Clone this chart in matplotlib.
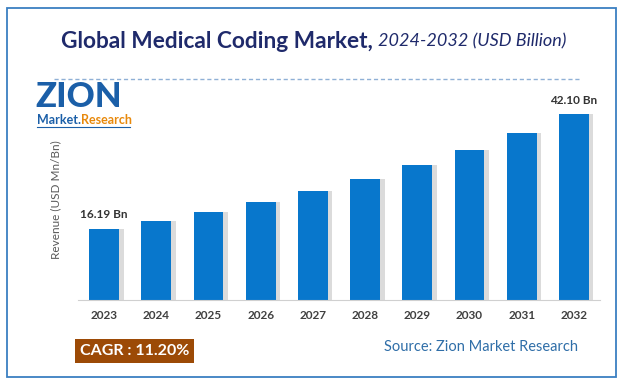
import numpy as np
import matplotlib.pyplot as plt
from matplotlib.patches import Rectangle

years = ['2023', '2024', '2025', '2026', '2027', '2028', '2029', '2030', '2031', '2032']
revenue = [16.19, 18.0, 20.0, 22.3, 24.8, 27.5, 30.5, 34.0, 37.8, 42.10]
first_label = '16.19 Bn'
last_label = '42.10 Bn'
cagr_text = 'CAGR : 11.20%'
source_text = 'Source: Zion Market Research'

plt.rcParams['font.family'] = ['Lato', 'DejaVu Sans']

fig = plt.figure(figsize=(6.24, 3.84), dpi=100)

# outer frame
fig.patches.append(Rectangle((7/624, 7/384), 609/624, 369/384, transform=fig.transFigure,
                             fill=False, edgecolor='#3a7fc1', linewidth=1.3))

# title
fig.text(373/624, 1-41/384, 'Global Medical Coding Market,', ha='right', va='center',
         fontsize=16.3, fontweight='bold', color='#1f2a6b')
fig.text(378/624, 1-41/384, '2024-2032 (USD Billion)', ha='left', va='center',
         fontsize=13, style='italic', color='#1f2a6b')
fig.lines.append(plt.Line2D([54/624, 580/624], [1-79/384, 1-79/384], transform=fig.transFigure,
                            color='#8fb0d6', linewidth=1, linestyle=(0, (3, 2))))

ax = fig.add_axes([78/624, 84/384, 522/624, 200/384])

# logo
fig.text(35/624, 1-97/384, 'ZION', fontsize=25, fontweight='black', color='#1b5fa8',
         va='center', ha='left')
t1 = fig.text(37/624, 1-120/384, 'Market.', fontsize=9, fontweight='bold', color='#1b5fa8',
              va='center', ha='left')
ax.annotate('Research', xy=(1, 0.5), xycoords=t1, va='center', ha='left',
            fontsize=9, fontweight='bold', color='#e8890c', annotation_clip=False)
fig.lines.append(plt.Line2D([37/624, 130/624], [1-127/384, 1-127/384], transform=fig.transFigure,
                            color='#1b5fa8', linewidth=0.8))

x = np.arange(len(years))
# shadow
ax.bar(x + 0.09, revenue, width=0.57, color='#9a9a9a', alpha=0.35, zorder=1)
ax.bar(x, revenue, width=0.57, color='#0877cc', zorder=2)
ax.set_xlim(-0.5, len(years) - 0.5)
ax.set_ylim(0, 45.3)
ax.set_xticks(x)
ax.set_xticklabels(years, fontsize=8.5, fontweight='bold', color='#404040')
ax.set_yticks([])
ax.tick_params(axis='x', length=0, pad=7)
for s in ['top', 'right', 'left']:
    ax.spines[s].set_visible(False)
ax.spines['bottom'].set_color('#d0d0d0')
ax.set_ylabel('Revenue (USD Mn/Bn)', fontsize=8.5, color='#595959', labelpad=12)

ax.annotate(first_label, (x[0], revenue[0]), xytext=(0, 6), textcoords='offset points',
            ha='center', va='bottom', fontsize=8.5, fontweight='bold', color='#333333')
ax.annotate(last_label, (x[-1], revenue[-1]), xytext=(0, 6), textcoords='offset points',
            ha='center', va='bottom', fontsize=8.5, fontweight='bold', color='#333333')

# CAGR box
fig.text(80/624, 1-351/384, cagr_text, fontsize=11.5, fontweight='bold', color='white',
         va='center', ha='left',
         bbox=dict(boxstyle='square,pad=0.3', facecolor='#9c4a06', edgecolor='none'))
fig.text(578/624, 1-347/384, source_text, fontsize=10.5, color='#2f6ea8', va='center', ha='right')

fig.savefig('out.png', dpi=100)
